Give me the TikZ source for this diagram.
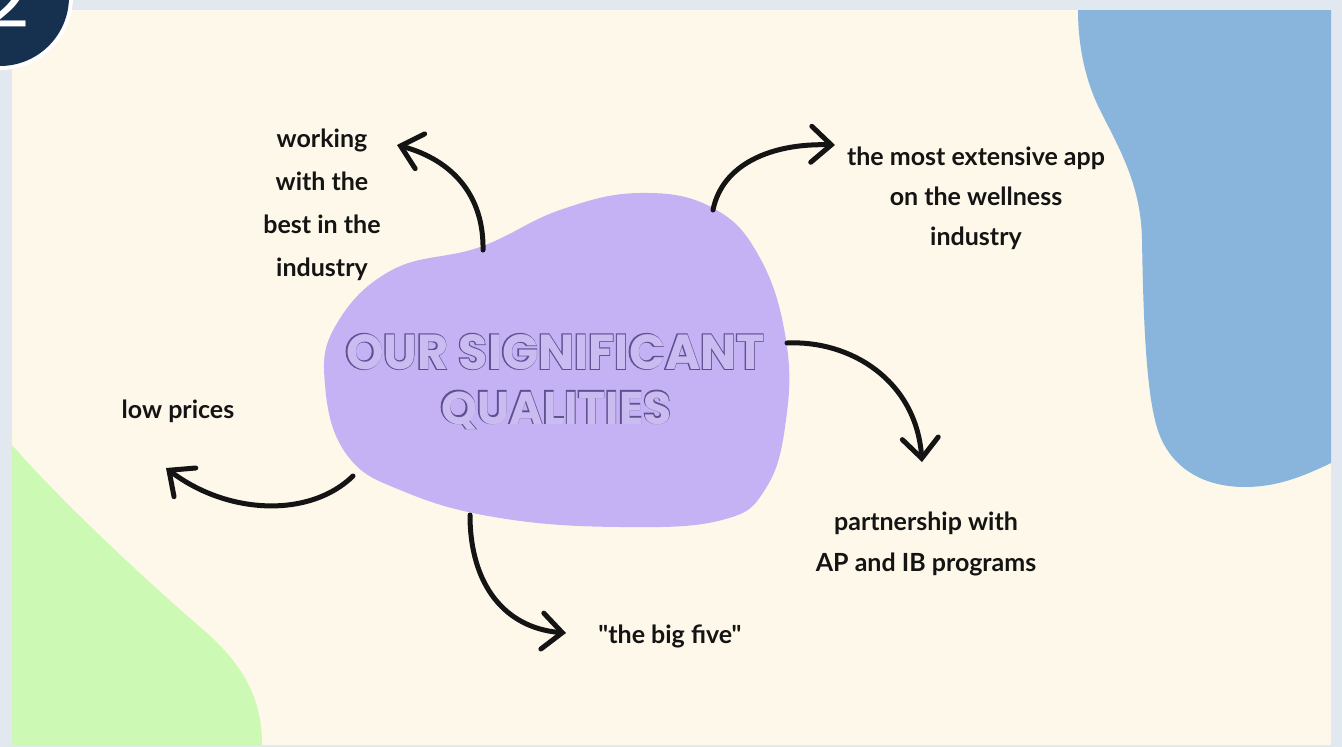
\documentclass[tikz,border=0pt]{standalone}
\usepackage{fontspec}
\usetikzlibrary{arrows.meta}
\setmainfont{Lato}
\newfontfamily\labfont{Lato}
\newfontfamily\titlefont{Poppins}
\newfontfamily\titlefontbold{Poppins}[FakeBold=4]
\definecolor{bordergray}{RGB}{226,232,239}
\definecolor{cream}{RGB}{253,248,233}
\definecolor{blobpurple}{RGB}{197,178,245}
\definecolor{titlefill}{RGB}{202,188,240}
\definecolor{blobblue}{RGB}{137,180,220}
\definecolor{blobgreen}{RGB}{204,250,180}
\definecolor{navy}{RGB}{22,49,79}
\definecolor{titlecol}{RGB}{95,80,145}
\definecolor{ink}{RGB}{20,20,20}
\tikzset{
  lab/.style={text=ink, align=center, inner sep=0pt},
  conn/.style={draw=ink, line width=5pt, line cap=round,
    -{Straight Barb[length=20pt,width=36pt,line cap=round]}},
}
\newcommand{\outl}[1]{\rlap{\color{titlecol}\fontsize{40}{40}\selectfont\titlefontbold\bfseries #1}\kern0.9pt\raisebox{-0.9pt}{\color{titlefill}\fontsize{40}{40}\selectfont\titlefont\bfseries #1}}
\begin{document}
\begin{tikzpicture}[x=1pt,y=-1pt]
\useasboundingbox (0,0) rectangle (1342,747);
\fill[bordergray] (0,0) rectangle (1342,747);
\fill[cream] (12,10) rectangle (1331,745);
% blue blob
\fill[blobblue] (1078,10) -- (1331,10) -- (1331,463)
  .. controls (1300,478) and (1275,487) .. (1245,487)
  .. controls (1200,487) and (1165,465) .. (1155,420)
  .. controls (1145,380) and (1143,300) .. (1142,240)
  .. controls (1141,185) and (1120,150) .. (1100,110)
  .. controls (1085,80) and (1078,45) .. (1078,10) -- cycle;
% green blob
\fill[blobgreen] (12,445)
  .. controls (60,500) and (140,575) .. (200,627)
  .. controls (245,665) and (262,700) .. (262,745)
  -- (12,745) -- cycle;
% navy badge
\begin{scope}
\clip (0,0) rectangle (1342,747);
\fill[white] (0,-3) circle (73);
\fill[navy] (0,-3) circle (69);
\node[text=white, anchor=base east, inner sep=0pt, font=\fontsize{78}{80}\selectfont\titlefont\mdseries] (badge) at (30,27) {2};
\end{scope}
% central blob
\fill[blobpurple] plot[smooth cycle, tension=0.7] coordinates {
  (325,385) (336,325) (392,270) (480,247) (560,210) (640,193) (713,208)
  (760,258) (786,340) (786,420) (766,488) (722,520) (620,527) (500,518)
  (405,492) (347,455)};
\node[inner sep=0pt] (title1) at (555,352) {\resizebox{420pt}{35pt}{\outl{OUR SIGNIFICANT}}};
\node[inner sep=0pt] (title2) at (556,410) {\resizebox{232pt}{!}{\outl{QUALITIES}}};
% labels
\node[lab, font=\fontsize{25}{43}\selectfont\labfont\bfseries] (w) at (322,205) {working\\with the\\best in the\\industry};
\node[lab, font=\fontsize{25}{40}\selectfont\labfont\bfseries] (m) at (976,198) {the most extensive app\\on the wellness\\industry};
\node[lab, font=\fontsize{25}{41}\selectfont\labfont\bfseries] (l) at (178,411) {low prices};
\node[lab, font=\fontsize{25}{41}\selectfont\labfont\bfseries] (p) at (926,544) {partnership with\\AP and IB programs};
\node[lab, font=\fontsize{25}{41}\selectfont\labfont\bfseries] (b) at (670,636) {"the big five"};
% connector ends
\coordinate (ws) at (483,250); \coordinate (wt) at (397,145);
\coordinate (ms) at (713,210); \coordinate (mt) at (835,145);
\coordinate (ps) at (787,343); \coordinate (pt) at (922,462);
\coordinate (ls) at (353,476); \coordinate (lt) at (166,468);
\coordinate (bs) at (470,515); \coordinate (bt) at (566,633);
\draw[conn] (ws) .. controls (484,195) and (452,160) .. (wt);
\draw[conn] (ms) .. controls (722,165) and (770,143) .. (mt);
\draw[conn] (ps) .. controls (850,340) and (916,380) .. (pt);
\draw[conn] (ls) .. controls (310,518) and (228,515) .. (lt);
\draw[conn] (bs) .. controls (470,585) and (505,628) .. (bt);
\end{tikzpicture}
\end{document}
